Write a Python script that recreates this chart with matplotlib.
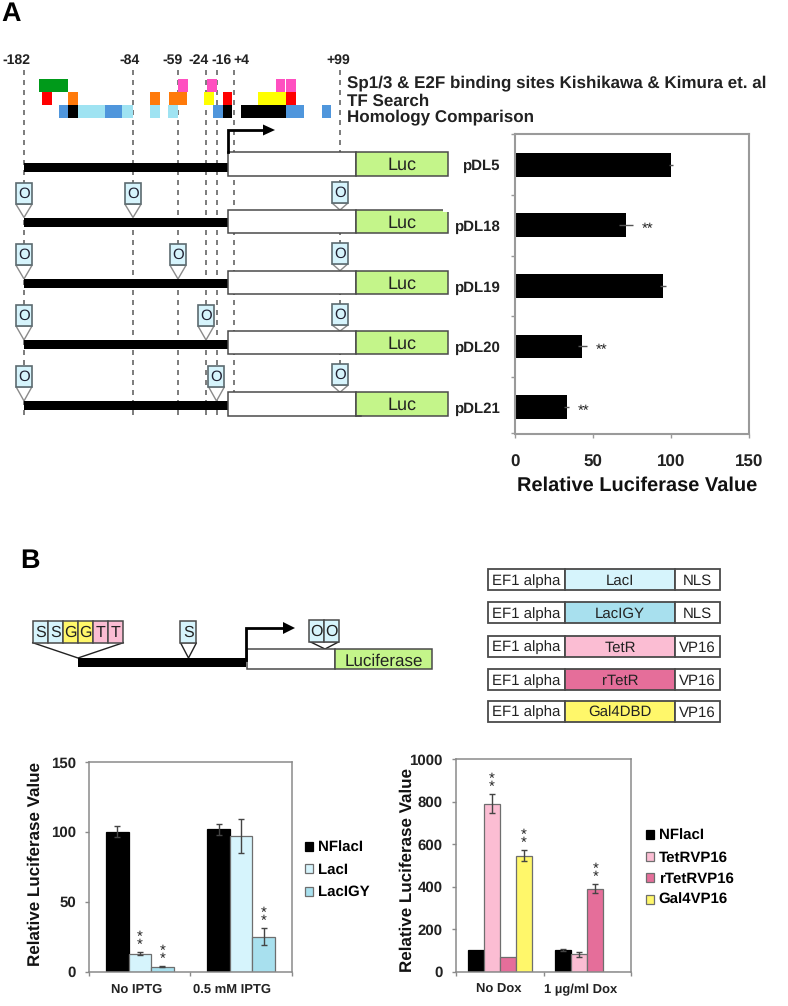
import matplotlib
matplotlib.use("Agg")
import matplotlib.pyplot as plt
from matplotlib.patches import Rectangle, Polygon
import numpy as np

plt.rcParams['font.family'] = ['Liberation Sans', 'DejaVu Sans']
plt.rcParams['text.hinting'] = 'no_hinting'
plt.rcParams['text.hinting_factor'] = 1

W, H = 788, 1006
GREY = '#8a8a8a'
DARK = '#4a4a4a'
LBLUE, CYAN, PINK, MAGENTA, YEL = '#d6f4fc', '#a8e0ee', '#fbbdd3', '#e56e9a', '#fff76a'
GREEN = '#c4f58a'

# ---------- chart data ----------
plasmids = ['pDL5', 'pDL18', 'pDL19', 'pDL20', 'pDL21']
rel_luc = [100, 71, 95, 43, 33]
rel_luc_err = [1.5, 4.5, 2, 3, 1.5]
rel_luc_sig = ['', '**', '', '**', '**']

lac_groups = ['No IPTG', '0.5 mM IPTG']
lac_names = ['NFlacI', 'LacI', 'LacIGY']
lac_vals = [[100, 102], [13, 97], [3.5, 25]]
lac_errs = [[4, 4], [1.2, 12], [0.4, 6]]
lac_sig = [['', ''], ['**', ''], ['**', '**']]
lac_cols = ['black', LBLUE, CYAN]

tet_groups = ['No Dox', '1 µg/ml Dox']
tet_names = ['NFlacI', 'TetRVP16', 'rTetRVP16', 'Gal4VP16']
tet_vals = [[100, 100], [790, 82], [68, 390], [545, 0]]
tet_errs = [[0, 5], [45, 12], [0, 22], [25, 0]]
tet_sig = [['', ''], ['**', ''], ['', '**'], ['**', '']]
tet_cols = ['black', PINK, MAGENTA, YEL]

# ---------- schematic data ----------
site_labels = ['-182', '-84', '-59', '-24', '-16', '+4', '+99']
site_x = [24, 133, 178, 206, 217, 234, 340]
site_label_x = [16.5, 130, 173, 199, 222, 241, 338]
legend_lines = ['Sp1/3 & E2F binding sites Kishikawa & Kimura et. al', 'TF Search', 'Homology Comparison']
legend_y = [83, 101, 117]
MB, OR, RD, GR, PK, LC, BK = '#4f96dc', '#ff7a0a', '#ff0000', '#009a1a', '#ff4fc0', '#9fe3f2', 'black'
row1 = [(39.3, 68, GR), (178, 187.7, PK), (206.7, 216.7, PK), (276, 285, PK), (286, 295.7, PK)]
row2 = [(42.3, 51.7, RD), (68.3, 77.7, OR), (150.3, 160.3, OR), (168.7, 186.7, OR),
        (204, 214, '#ffff00'), (222.7, 231.7, RD), (258, 286, '#ffff00'), (286, 295.7, RD)]
row3 = [(59.3, 68.3, MB), (68.3, 77.7, BK), (77.7, 105, LC), (105, 122.3, MB), (122.3, 133, LC),
        (150.3, 160.3, LC), (168.3, 178.3, LC), (213.3, 222.7, MB), (222.7, 231.7, BK),
        (240.7, 286, BK), (286, 304.3, MB), (321.7, 331.3, MB)]
construct_top = [152.3, 210, 270.7, 331, 392.3]
construct_bar = [167, 222, 283.5, 344.5, 405.5]
construct_label_y = [166, 227, 288, 348.5, 409]
operator_x = [None, 133, 178, 206, 216.5]
operator_top = [None, 183.3, 244.3, 305, 365.7]
operator_top2 = [None, 182, 242.7, 304, 364.3]
parts = [('EF1 alpha', 'LacI', 'NLS', LBLUE), ('EF1 alpha', 'LacIGY', 'NLS', CYAN),
         ('EF1 alpha', 'TetR', 'VP16', PINK), ('EF1 alpha', 'rTetR', 'VP16', MAGENTA),
         ('EF1 alpha', 'Gal4DBD', 'VP16', YEL)]
part_top = [569.3, 602.3, 636, 669.3, 701]
s_sites = ['S', 'S', 'G', 'G', 'T', 'T']
s_cols = [LBLUE, LBLUE, YEL, YEL, PINK, PINK]
s_x = [32.7, 47.7, 63.3, 78.3, 93.3, 108.3]

fig = plt.figure(figsize=(W / 100, H / 100), dpi=100, facecolor='white')


def px_axes(l, t, r, b):
    return fig.add_axes([l / W, 1 - b / H, (r - l) / W, (b - t) / H])


# overlay in pixel units for the drawn schematics
ov = fig.add_axes([0, 0, 1, 1], facecolor='none')
ov.set_xlim(0, W)
ov.set_ylim(H, 0)
ov.axis('off')


def box(x0, x1, y0, y1, fc='white', ec=DARK, lw=1.1, z=3):
    ov.add_patch(Rectangle((x0, y0), x1 - x0, y1 - y0, fc=fc, ec=ec, lw=lw, zorder=z))


# ---------- panel A schematic ----------
ov.text(1, 14.5, 'A', fontsize=19.5, fontweight='bold', va='center', ha='left')
ov.text(20, 561, 'B', fontsize=19.5, fontweight='bold', va='center', ha='left')
for x, lx, s in zip(site_x, site_label_x, site_labels):
    ov.plot([x, x], [70, 420], color='#666666', lw=1.2, ls=(0, (3, 3)), zorder=1)
    ov.text(lx, 60.5, s, fontsize=10.3, fontweight='bold', ha='center', va='center', color='#222222')
for t, y in zip(legend_lines, legend_y):
    ov.text(347, y, t, fontsize=12.5, fontweight='bold', ha='left', va='center', color='#222222')
for row, (y0, y1) in zip((row1, row2, row3), ((79, 92.3), (91.7, 104.7), (104.7, 118))):
    for x0, x1, c in row:
        ov.add_patch(Rectangle((x0, y0), x1 - x0, y1 - y0, fc=c, ec='none', zorder=2))
ov.plot([228, 228, 264], [152, 130, 130], color='black', lw=2, zorder=4, solid_joinstyle='miter')
ov.add_patch(Polygon([[263, 124.5], [275, 130], [263, 135.5]], fc='black', ec='none', zorder=4))

for i, (top, bar_y, ly, name) in enumerate(zip(construct_top, construct_bar, construct_label_y, plasmids)):
    ov.add_patch(Rectangle((24, bar_y - 4.5), 204, 9, fc='black', ec='none', zorder=3))
    box(228, 356, top, top + 23.3)
    box(356, 448, top, top + 23.3, fc=GREEN)
    ov.text(402, top + 13, 'Luc', fontsize=13.3, ha='center', va='center', color='#222222', zorder=5)
    ov.text(500, ly, name, fontsize=11, fontweight='bold', ha='right', va='center', color='#222222')
    if operator_x[i] is None:
        continue
    for ox, ot, tip in ((24, operator_top[i], bar_y - 4.5),
                        (operator_x[i], operator_top[i], bar_y - 4.5),
                        (340, operator_top2[i], top)):
        ov.add_patch(Polygon([[ox - 8, ot + 21], [ox + 8, ot + 21], [ox, tip]], fc='white', ec=GREY, lw=1, zorder=2.5))
        box(ox - 8, ox + 8, ot, ot + 21, fc=LBLUE, ec='#5c6b70', lw=1.2)
        ov.text(ox, ot + 11, 'O', fontsize=10.8, ha='center', va='center', color='#223', zorder=5)
# print glitches of the original drawing
ov.add_patch(Rectangle((443.5, 207), 7, 5.4, fc='white', ec='none', zorder=4))
ov.plot([356, 361], [415.6, 415.6], color=DARK, lw=1.1, zorder=4)

# ---------- panel B schematic ----------
for s, c, x in zip(s_sites, s_cols, s_x):
    box(x, x + 15, 621.3, 642.7, fc=c)
    ov.text(x + 7.5, 633, s, fontsize=11.5, ha='center', va='center', color='#222222', zorder=5)
ov.plot([32.7, 78, 123.3], [642.7, 658, 642.7], color='#222222', lw=1, zorder=2)
ov.add_patch(Rectangle((78, 657.7), 168, 9.6, fc='black', ec='none', zorder=3))
ov.add_patch(Polygon([[180.5, 642.7], [196.5, 642.7], [188.5, 658]], fc='white', ec='#222222', lw=1, zorder=2))
box(180.5, 196.5, 621.3, 642.7, fc=LBLUE)
ov.text(188.5, 633, 'S', fontsize=11.5, ha='center', va='center', color='#222222', zorder=5)
ov.plot([246, 246, 284], [660, 628, 628], color='black', lw=2, zorder=4, solid_joinstyle='miter')
ov.add_patch(Polygon([[283, 622], [295, 628], [283, 634]], fc='black', ec='none', zorder=4))
box(246.7, 335, 648.7, 668.7)
box(335, 432, 648.7, 668.7, fc=GREEN)
ov.text(383.5, 661, 'Luciferase', fontsize=12, ha='center', va='center', color='#222222', zorder=5)
ov.add_patch(Polygon([[310, 641.7], [339, 641.7], [325, 649]], fc='white', ec='#222222', lw=1, zorder=2))
for x in (309.3, 324.3):
    box(x, x + 15, 620, 641.7, fc=LBLUE)
    ov.text(x + 7.5, 632, 'O', fontsize=11.5, ha='center', va='center', color='#222222', zorder=5)

for (a, b_, c_, col), top in zip(parts, part_top):
    bot = top + 20.5
    box(488, 565, top, bot, lw=1.3)
    box(565, 675, top, bot, fc=col, lw=1.3)
    box(675, 720, top, bot, lw=1.3)
    ov.text(526.5, top + 11.5, a, fontsize=10.5, ha='center', va='center', color='#222222', zorder=5)
    ov.text(620, top + 11.5, b_, fontsize=10.5, ha='center', va='center', color='#222222', zorder=5)
    ov.text(697.5, top + 11.5, c_, fontsize=10.5, ha='center', va='center', color='#222222', zorder=5)


def style(ax, lw=1.1, col=GREY):
    for s in ax.spines.values():
        s.set_color(col)
        s.set_linewidth(lw)
    ax.tick_params(color=col, width=1, length=3)


# ---------- panel A bars ----------
axA = px_axes(514.5, 134.5, 749, 433.5)
ypos = np.arange(len(plasmids))
axA.barh(ypos, rel_luc, height=0.39, color='black', xerr=rel_luc_err,
         error_kw=dict(ecolor='#555555', elinewidth=1, capsize=0), zorder=2)
axA.set_xlim(-0.5, 150)
axA.set_ylim(4.44, -0.5)
axA.set_xticks([0, 50, 100, 150])
axA.set_xticklabels(['0', '50', '100', '150'], fontsize=12.5, fontweight='bold', color='#222222')
axA.set_yticks(list(np.arange(len(plasmids)) - 0.5) + [4.44])
axA.set_yticklabels([])
style(axA, lw=1.5, col='#9a9a9a')
axA.tick_params(axis='x', pad=12)
for y, v, e, s in zip(ypos, rel_luc, rel_luc_err, rel_luc_sig):
    if s:
        axA.annotate(s, xy=(v + e, y), xytext=(15, -4), textcoords='offset pixels', fontsize=11,
                     ha='center', va='center', color='#222222')
fig.text(637 / W, 1 - 485.5 / H, 'Relative Luciferase Value', fontsize=14.5, fontweight='bold',
         ha='center', va='center', color='#111111')


# ---------- panel B grouped bars ----------
def grouped(ax, groups, names, vals, errs, sig, cols, ymax, yticks, bar_w, label_x, label_y, label_pos):
    n = len(names)
    centers = np.arange(len(groups)) + 0.5
    for i in range(n):
        x = centers + (i - (n - 1) / 2) * bar_w
        ax.bar(x, vals[i], width=bar_w, color=cols[i],
               edgecolor='black' if i == 0 else '#6e6e6e', linewidth=0.9, label=names[i], zorder=2)
        for xx, v, e, s in zip(x, vals[i], errs[i], sig[i]):
            if e:
                ax.errorbar(xx, v, yerr=e, color='#444444', elinewidth=1, capsize=2.2, capthick=1, zorder=3)
            if s:
                ax.annotate('*\n*', xy=(xx, v + e), xytext=(0, 0), textcoords='offset pixels',
                            fontsize=11, ha='center', va='bottom', linespacing=0.45, color='#222222')
    ax.set_xlim(0, len(groups))
    ax.set_ylim(0, ymax)
    ax.set_xticks(np.arange(len(groups) + 1))
    ax.set_xticklabels([])
    ax.set_xticks(label_pos, minor=True)
    ax.set_xticklabels(groups, minor=True, fontsize=9.5, fontweight='bold', color='#222222')
    ax.set_yticks(yticks)
    ax.set_yticklabels([str(t) for t in yticks], fontsize=10.6, fontweight='bold', color='#222222')
    style(ax)
    ax.tick_params(axis='y', pad=6.5)
    ax.tick_params(axis='x', which='minor', length=0, pad=8.5)
    ax.set_ylabel('Relative Luciferase Value', fontsize=12.5, fontweight='bold', color='#111111')
    ax.yaxis.set_label_coords(label_x, label_y)


axL = px_axes(89.3, 762, 291.7, 971.7)
grouped(axL, lac_groups, lac_names, lac_vals, lac_errs, lac_sig, lac_cols, 150, [0, 50, 100, 150],
        0.222, -0.229, 0.515, [0.471, 1.415])
axL.legend(frameon=False, loc='upper left', bbox_to_anchor=(302 / W, 1 - 838 / H),
           bbox_transform=fig.transFigure, handlelength=0.55, handleheight=0.55, handletextpad=0.3,
           labelspacing=0.55, borderpad=0.2, borderaxespad=0,
           prop=dict(size=10.8, weight='bold'))

axR = px_axes(456, 759, 631, 971.7)
grouped(axR, tet_groups, tet_names, tet_vals, tet_errs, tet_sig, tet_cols, 1000, [0, 200, 400, 600, 800, 1000],
        0.183, -0.235, 0.48, [0.491, 1.429])
axR.legend(frameon=False, loc='upper left', bbox_to_anchor=(643 / W, 1 - 826 / H),
           bbox_transform=fig.transFigure, handlelength=0.55, handleheight=0.55, handletextpad=0.3,
           labelspacing=0.5, borderpad=0.2, borderaxespad=0,
           prop=dict(size=10.8, weight='bold'))

fig.savefig('out.png', dpi=100, facecolor='white')
